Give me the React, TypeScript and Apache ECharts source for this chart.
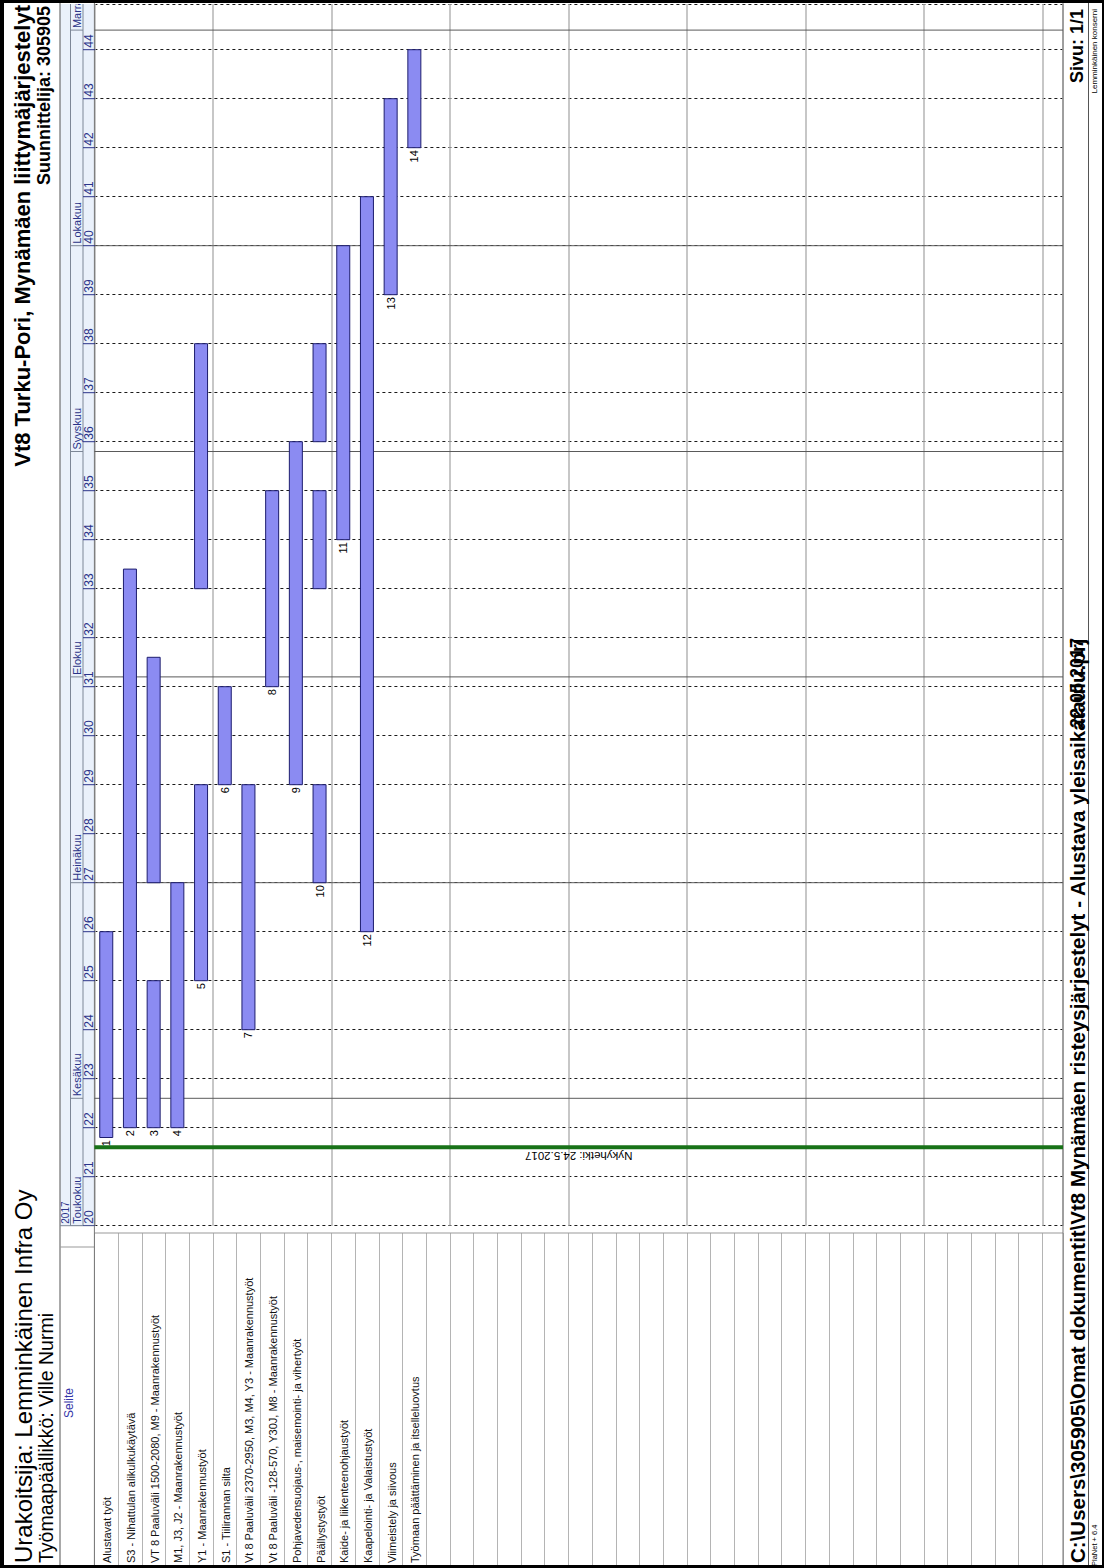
import React, { useEffect, useRef } from "react";
import * as echarts from "echarts";

// ---------- data ----------
const taskNames = [
  "Alustavat työt",
  "S3 - Nihattulan alikulkukäytävä",
  "VT 8 Paaluväli 1500-2080, M9 - Maanrakennustyöt",
  "M1, J3, J2 - Maanrakennustyöt",
  "Y1 - Maanrakennustyöt",
  "S1 - Tiilirannan silta",
  "Vt 8 Paaluväli 2370-2950, M3, M4, Y3 - Maanrakennustyöt",
  "Vt 8 Paaluväli -128-570, Y30J, M8 - Maanrakennustyöt",
  "Pohjavedensuojaus-, maisemointi- ja vihertyöt",
  "Päällystystyöt",
  "Kaide- ja liikenteenohjaustyöt",
  "Kaapelointi- ja Valaistustyöt",
  "Viimeistely ja siivous",
  "Työmaan päättäminen ja itselleluovtus",
];
// time in working weeks: week number + weekday/5
const segRow = [1, 2, 3, 3, 4, 5, 5, 6, 7, 8, 9, 10, 10, 10, 11, 12, 13, 14];
const segStart = [21.8, 22, 22, 27, 22, 25, 33, 29, 24, 31, 29, 27, 33, 36, 34, 26, 39, 42];
const segEnd = [26, 33.4, 25, 31.6, 27, 29, 38, 31, 29, 35, 36, 29, 35, 38, 40, 41, 43, 44];
const weekNumbers = [20, 21, 22, 23, 24, 25, 26, 27, 28, 29, 30, 31, 32, 33, 34, 35, 36, 37, 38, 39, 40, 41, 42, 43, 44];
const monthNames = ["Toukokuu", "Kesäkuu", "Heinäkuu", "Elokuu", "Syyskuu", "Lokakuu", "Marraskuu"];
const monthStart = [20, 22.6, 27, 31.2, 35.8, 40, 44.4];
const yearLabel = "2017";
const todayValue = 21.6;
const todayLabel = "Nykyhetki: 24.5.2017";

// ---------- layout ----------
const W = 1104, H = 1568;
const FONT = "'Liberation Sans', Arial, sans-serif";
const PX_PER_WEEK = 49;
const Y_W22 = 1127.7;
const GRID_TOP = 4;
const WEEK_MIN = 20;
const Y_BOTTOM = Y_W22 + (22 - WEEK_MIN) * PX_PER_WEEK;
const WEEK_MAX = 22 + (Y_W22 - GRID_TOP) / PX_PER_WEEK;
const CHART_LEFT = 94.4, CHART_RIGHT = 1063;
const ROW_W = 23.7;
const ROW_MAX = (CHART_RIGHT - CHART_LEFT) / ROW_W;
const LABEL_TOP = 1233, LABEL_BOTTOM = 1565;
const HDR_LEFT = 60, HDR_W = 35;
const HDR_COLOR = "#2a3388";
const BOX = "#7d8797";

const segLabel = segRow.map((r, i) => (segRow.indexOf(r) === i ? String(r) : ""));

function rotText(x: number, y: number, text: string, size: number, align: string, extra: any = {}) {
  return {
    type: "text", x, y, rotation: Math.PI / 2, z: 50,
    style: { text, fontSize: size, fontFamily: FONT, textAlign: align, textVerticalAlign: "middle", fill: "#000", ...extra },
  };
}

function buildOption(): any {
  const hideAxis = { axisLine: { show: false }, axisTick: { show: false }, axisLabel: { show: false } };
  return {
    animation: false,
    backgroundColor: "#fff",
    grid: [
      { left: CHART_LEFT, top: GRID_TOP, width: CHART_RIGHT - CHART_LEFT, height: Y_BOTTOM - GRID_TOP },
      { left: CHART_LEFT, top: LABEL_TOP, width: CHART_RIGHT - CHART_LEFT, height: LABEL_BOTTOM - LABEL_TOP },
      { left: HDR_LEFT, top: GRID_TOP, width: HDR_W, height: Y_BOTTOM - GRID_TOP },
    ],
    xAxis: [
      { gridIndex: 0, type: "value", min: 0, max: ROW_MAX, interval: 5, ...hideAxis,
        splitLine: { show: true, lineStyle: { color: "#b4b4b4", width: 1.5 } } },
      { gridIndex: 1, type: "value", min: 0, max: ROW_MAX, interval: 1, ...hideAxis,
        splitLine: { show: true, lineStyle: { color: "#b4b4b4", width: 1 } } },
      { gridIndex: 2, type: "value", min: 0, max: HDR_W, show: false },
    ],
    yAxis: [
      { gridIndex: 0, type: "value", min: WEEK_MIN, max: WEEK_MAX, interval: 1, ...hideAxis,
        splitLine: { show: true, lineStyle: { color: "#1a1a1a", width: 1, type: [3, 3] } } },
      { gridIndex: 1, type: "value", min: 0, max: 1, show: false },
      { gridIndex: 2, type: "value", min: WEEK_MIN, max: WEEK_MAX, show: false },
    ],
    graphic: [
      // header background and boxes
      { type: "rect", z: 0, shape: { x: HDR_LEFT, y: GRID_TOP, width: HDR_W, height: Y_BOTTOM - GRID_TOP }, style: { fill: "#eaf1fb" } },
      { type: "line", z: 1, shape: { x1: HDR_LEFT, y1: 0, x2: HDR_LEFT, y2: H }, style: { stroke: "#555", lineWidth: 1 } },
      { type: "line", z: 1, shape: { x1: 70.5, y1: GRID_TOP, x2: 70.5, y2: Y_BOTTOM }, style: { stroke: BOX, lineWidth: 1 } },
      { type: "line", z: 1, shape: { x1: 83, y1: GRID_TOP, x2: 83, y2: Y_BOTTOM }, style: { stroke: BOX, lineWidth: 1 } },
      { type: "line", z: 1, shape: { x1: HDR_LEFT, y1: Y_BOTTOM, x2: CHART_LEFT, y2: Y_BOTTOM }, style: { stroke: BOX, lineWidth: 1 } },
      { type: "line", z: 1, shape: { x1: HDR_LEFT, y1: 1247, x2: CHART_LEFT, y2: 1247 }, style: { stroke: "#999", lineWidth: 1 } },
      { type: "line", z: 1, shape: { x1: CHART_LEFT, y1: LABEL_TOP, x2: CHART_RIGHT, y2: LABEL_TOP }, style: { stroke: "#999", lineWidth: 1 } },
      { type: "line", z: 1, shape: { x1: CHART_LEFT, y1: 0, x2: CHART_LEFT, y2: H }, style: { stroke: "#777", lineWidth: 1 } },
      { type: "line", z: 1, shape: { x1: CHART_RIGHT, y1: 0, x2: CHART_RIGHT, y2: H }, style: { stroke: "#777", lineWidth: 1 } },
      { type: "line", z: 1, shape: { x1: 1088.5, y1: 0, x2: 1088.5, y2: H }, style: { stroke: "#555", lineWidth: 1 } },
      // titles
      rotText(23, 1563, "Urakoitsija: Lemminkäinen Infra Oy", 24, "left"),
      rotText(45.5, 1563, "Työmaapäällikkö: Ville Nurmi", 19.5, "left"),
      rotText(22, 5, "Vt8 Turku-Pori, Mynämäen liittymäjärjestelyt", 22, "right", { fontWeight: "bold" }),
      rotText(43.5, 6, "Suunnittelija: 305905", 18, "right", { fontWeight: "bold" }),
      rotText(69, 1403, "Selite", 12, "center", { fill: "#3535a8" }),
      // footer
      rotText(1077, 1563, "C:\\Users\\305905\\Omat dokumentit\\Vt8 Mynämäen risteysjärjestelyt - Alustava yleisaikataulu.prj", 20.5, "left", { fontWeight: "bold" }),
      rotText(1077, 728, "22.05.2017", 18, "left", { fontWeight: "bold" }),
      rotText(1076.5, 9, "Sivu: 1/1", 18, "right", { fontWeight: "bold" }),
      rotText(1094, 1566, "PlaNet + 6.4", 7.5, "left"),
      rotText(1094.5, 9, "Lemminkäinen konserni", 8, "right"),
      // frame
      { type: "rect", z: 100, shape: { x: 0, y: 0, width: 4, height: H }, style: { fill: "#000" } },
      { type: "rect", z: 100, shape: { x: 0, y: 0, width: W, height: 3 }, style: { fill: "#000" } },
      { type: "rect", z: 100, shape: { x: 0, y: H - 3, width: W, height: 3 }, style: { fill: "#000" } },
      { type: "rect", z: 100, shape: { x: W - 2, y: 0, width: 2, height: H }, style: { fill: "#000" } },
    ],
    series: [
      // month boundaries in chart
      {
        type: "custom", xAxisIndex: 0, yAxisIndex: 0, z: 2, silent: true,
        data: monthStart.slice(1).map((v) => [v]),
        renderItem: (_p: any, api: any) => {
          const a = api.coord([0, api.value(0)]);
          const b = api.coord([ROW_MAX, api.value(0)]);
          return { type: "line", shape: { x1: a[0], y1: a[1], x2: b[0], y2: b[1] }, style: { stroke: "#5a5a5a", lineWidth: 1 } };
        },
      },
      // bars
      {
        type: "custom", xAxisIndex: 0, yAxisIndex: 0, z: 4, silent: true,
        data: segRow.map((r, i) => [r, segStart[i], segEnd[i]]),
        renderItem: (p: any, api: any) => {
          const row = api.value(0);
          const s = api.coord([row - 0.5, api.value(1)]);
          const e = api.coord([row - 0.5, api.value(2)]);
          const bw = 13;
          const children: any[] = [
            { type: "rect", shape: { x: s[0] - bw / 2, y: e[1], width: bw, height: s[1] - e[1] },
              style: { fill: "#8b8bf2", stroke: "#1d1d6e", lineWidth: 1 } },
          ];
          const lab = segLabel[p.dataIndex];
          if (lab) {
            children.push({ type: "text", x: s[0], y: s[1] + 2.5, rotation: Math.PI / 2,
              style: { text: lab, textAlign: "right", textVerticalAlign: "middle", fontSize: 11, fontFamily: FONT, fill: "#000" } });
          }
          return { type: "group", children };
        },
      },
      // today line
      {
        type: "custom", xAxisIndex: 0, yAxisIndex: 0, z: 6, silent: true,
        data: [[todayValue]],
        renderItem: (_p: any, api: any) => {
          const a = api.coord([0, api.value(0)]);
          const b = api.coord([ROW_MAX, api.value(0)]);
          return { type: "group", children: [
            { type: "line", shape: { x1: a[0], y1: a[1], x2: b[0], y2: b[1] }, style: { stroke: "#187218", lineWidth: 4 } },
            { type: "text", x: (a[0] + b[0]) / 2, y: a[1] + 8.7, rotation: Math.PI,
              style: { text: todayLabel, textAlign: "center", textVerticalAlign: "middle", fontSize: 11.5, fontFamily: FONT, fill: "#000" } },
          ] };
        },
      },
      // task names
      {
        type: "custom", xAxisIndex: 1, yAxisIndex: 1, z: 4, silent: true,
        data: taskNames.map((_n, i) => [i + 0.5, 0]),
        renderItem: (p: any, api: any) => {
          const c = api.coord([api.value(0), api.value(1)]);
          return { type: "text", x: c[0] + 1, y: c[1] - 2, rotation: Math.PI / 2,
            style: { text: taskNames[p.dataIndex], textAlign: "left", textVerticalAlign: "middle", fontSize: 11, fontFamily: FONT, fill: "#111" } };
        },
      },
      // header weeks
      {
        type: "custom", xAxisIndex: 2, yAxisIndex: 2, z: 4, silent: true, clip: true,
        data: weekNumbers.map((w) => [w]),
        renderItem: (_p: any, api: any) => {
          const w = api.value(0);
          const a = api.coord([23, w]);
          const b = api.coord([HDR_W, w]);
          const t = api.coord([28.8, w]);
          return { type: "group", children: [
            { type: "line", shape: { x1: a[0], y1: a[1], x2: b[0], y2: b[1] }, style: { stroke: HDR_COLOR, lineWidth: 1 } },
            { type: "text", x: t[0], y: t[1] - 2, rotation: Math.PI / 2,
              style: { text: String(w), textAlign: "left", textVerticalAlign: "middle", fontSize: 12, fontFamily: FONT, fill: HDR_COLOR } },
          ] };
        },
      },
      // header months
      {
        type: "custom", xAxisIndex: 2, yAxisIndex: 2, z: 4, silent: true, clip: true,
        data: monthStart.map((m) => [m]),
        renderItem: (p: any, api: any) => {
          const m = api.value(0);
          const a = api.coord([10.5, m]);
          const b = api.coord([23, m]);
          const t = api.coord([17, m]);
          return { type: "group", children: [
            { type: "line", shape: { x1: a[0], y1: a[1], x2: b[0], y2: b[1] }, style: { stroke: BOX, lineWidth: 1 } },
            { type: "text", x: t[0], y: t[1] - 2, rotation: Math.PI / 2,
              style: { text: monthNames[p.dataIndex], textAlign: "left", textVerticalAlign: "middle", fontSize: 11, fontFamily: FONT, fill: HDR_COLOR } },
          ] };
        },
      },
      // header year
      {
        type: "custom", xAxisIndex: 2, yAxisIndex: 2, z: 4, silent: true,
        data: [[WEEK_MIN]],
        renderItem: (_p: any, api: any) => {
          const t = api.coord([5.5, api.value(0)]);
          return { type: "text", x: t[0], y: t[1] - 2, rotation: Math.PI / 2,
            style: { text: yearLabel, textAlign: "left", textVerticalAlign: "middle", fontSize: 10, fontFamily: FONT, fill: HDR_COLOR } };
        },
      },
    ],
  };
}

export default function App() {
  const ref = useRef<HTMLDivElement>(null);
  useEffect(() => {
    const chart = echarts.init(ref.current as HTMLDivElement, null, { renderer: "svg" });
    chart.setOption(buildOption());
    return () => chart.dispose();
  }, []);
  return (
    <div
      ref={ref}
      style={{ position: "fixed", left: 0, top: 0, width: W, height: H, background: "#fff" }}
    />
  );
}
